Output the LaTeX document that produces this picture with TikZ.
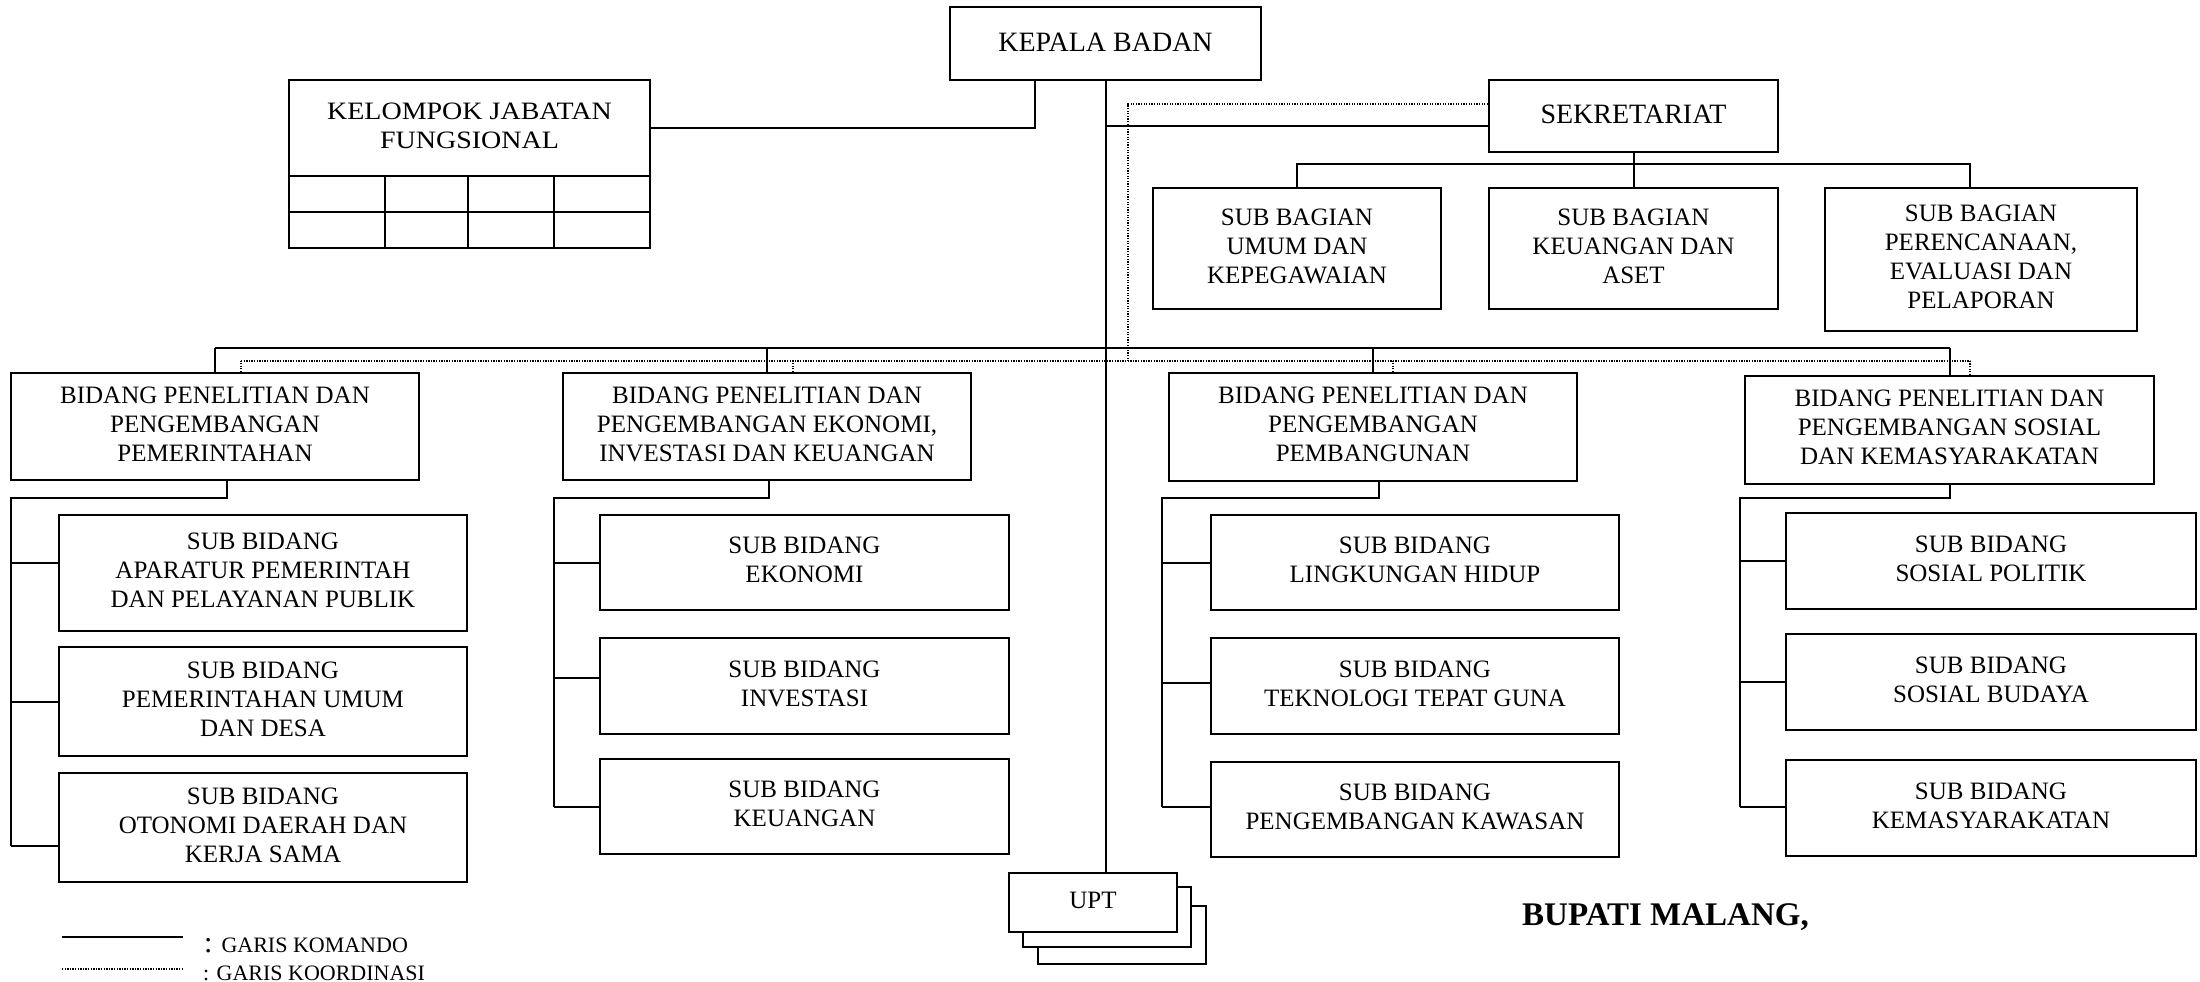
\documentclass[tikz,border=0pt]{standalone}
\usepackage{fontspec}
\setmainfont{Liberation Serif}
\newfontfamily\wideserif[FakeStretch=1.12]{Liberation Serif}
\usetikzlibrary{calc}
\tikzset{
  box/.style={draw, line width=2pt, fill=white, align=center, inner sep=2pt,
    font=\fontsize{25}{29}\selectfont},
  bigbox/.style={box, font=\fontsize{28}{31}\selectfont},
  cmd/.style={line width=2pt},
  coordline/.style={line width=1.3pt, dash pattern=on 1.3pt off 1.3pt},
  legendtext/.style={anchor=base west, inner sep=0pt, font=\fontsize{22}{24}\selectfont}
}
\newcommand\obox[7][0]{\node[box,minimum width={(#5-#3)*1pt},minimum height={(#6-#4)*1pt}] (#2) at ({(#3+#5)/2},{(#4+#6)/2}) {\raisebox{#1pt}{\begin{tabular}{@{}c@{}}#7\end{tabular}}};}
\newcommand\branchto[3]{\path ($(#1.west)+(0,#3)$) coordinate (tmpb); \draw[cmd] (tmpb) -- (tmpb -| #2);}
\begin{document}
\begin{tikzpicture}[x=1pt,y=-1pt]
\useasboundingbox (0,0) rectangle (2200,982);

% top
\node[bigbox,minimum width=311pt,minimum height=73pt] (kb) at (1105.5,43.5) {\raisebox{3pt}{KEPALA BADAN}};
\node[box,font=\wideserif\fontsize{25}{29}\selectfont,minimum width=361pt,minimum height=96pt] (kjf) at (469.5,128) {\raisebox{5pt}{\begin{tabular}{@{}c@{}}KELOMPOK JABATAN\\FUNGSIONAL\end{tabular}}};
\draw[cmd] (289,176) rectangle (650,248);
\draw[cmd] (289,212) -- (650,212);
\foreach \gx in {385,468,554} \draw[cmd] (\gx,176) -- (\gx,248);
\node[bigbox,minimum width=289pt,minimum height=72pt] (sek) at (1633.5,116) {\raisebox{3pt}{SEKRETARIAT}};

\obox[6]{sb1}{1153}{188}{1441}{309}{SUB BAGIAN\\UMUM DAN\\KEPEGAWAIAN}
\obox[6]{sb2}{1489}{188}{1778}{309}{SUB BAGIAN\\KEUANGAN DAN\\ASET}
\obox[3]{sb3}{1825}{188}{2137}{331}{SUB BAGIAN\\PERENCANAAN,\\EVALUASI DAN\\PELAPORAN}

% bidang
\obox{b1}{11}{373}{419}{480}{BIDANG PENELITIAN DAN\\PENGEMBANGAN\\PEMERINTAHAN}
\obox{b2}{563}{373}{971}{480}{BIDANG PENELITIAN DAN\\PENGEMBANGAN EKONOMI,\\INVESTASI DAN KEUANGAN}
\obox{b3}{1169}{373}{1577}{481}{BIDANG PENELITIAN DAN\\PENGEMBANGAN\\PEMBANGUNAN}
\obox{b4}{1745}{376}{2154}{484}{BIDANG PENELITIAN DAN\\PENGEMBANGAN SOSIAL\\DAN KEMASYARAKATAN}

% sub bidang
\obox[3]{s11}{59}{515}{467}{631}{SUB BIDANG\\APARATUR PEMERINTAH\\DAN PELAYANAN PUBLIK}
\obox[3]{s12}{59}{647}{467}{756}{SUB BIDANG\\PEMERINTAHAN UMUM\\DAN DESA}
\obox[3]{s13}{59}{773}{467}{882}{SUB BIDANG\\OTONOMI DAERAH DAN\\KERJA SAMA}
\obox[3]{s21}{600}{515}{1009}{610}{SUB BIDANG\\EKONOMI}
\obox[3]{s22}{600}{638}{1009}{734}{SUB BIDANG\\INVESTASI}
\obox[3]{s23}{600}{759}{1009}{854}{SUB BIDANG\\KEUANGAN}
\obox[3]{s31}{1211}{515}{1619}{610}{SUB BIDANG\\LINGKUNGAN HIDUP}
\obox[3]{s32}{1211}{638}{1619}{734}{SUB BIDANG\\TEKNOLOGI TEPAT GUNA}
\obox[3]{s33}{1211}{762}{1619}{857}{SUB BIDANG\\PENGEMBANGAN KAWASAN}
\obox[3]{s41}{1786}{513}{2196}{609}{SUB BIDANG\\SOSIAL POLITIK}
\obox[3]{s42}{1786}{634}{2196}{730}{SUB BIDANG\\SOSIAL BUDAYA}
\obox[3]{s43}{1786}{760}{2196}{856}{SUB BIDANG\\KEMASYARAKATAN}

% UPT stack
\draw[cmd,fill=white] (1038,906) rectangle (1206,964);
\draw[cmd,fill=white] (1023,887) rectangle (1191,947);
\obox{upt}{1009}{873}{1177}{932}{UPT}

% command lines
\draw[cmd] (kb.south) -- (kb.south |- upt.north);
\coordinate (kbl) at ($(kb.south)+(-70.5,0)$);
\draw[cmd] (kbl) |- (kjf.east);
\coordinate (s1) at ($(sek.west)+(0,10)$);
\draw[cmd] (s1) -- (s1 -| kb.south);
\coordinate (sbus) at (0,164);
\draw[cmd] (sek.south) -- (sb2.north);
\coordinate (sb3c) at ($(sb3.north)+(-11,0)$);
\draw[cmd] (sb1.north) -- (sb1.north |- sbus) -- (sb3c |- sbus) -- (sb3c);

\coordinate (cbus) at (0,348);
\foreach \b in {b1,b2,b3,b4} \draw[cmd] (\b.north) -- (\b.north |- cbus);
\draw[cmd] (b1.north |- cbus) -- (b4.north |- cbus);

% coordination lines
\coordinate (dbus) at (0,361);
\coordinate (d1) at ($(sek.west)+(0,-12)$);
\coordinate (dv) at (1128,0);
\draw[coordline] (d1) -- (d1 -| dv) -- (dv |- dbus);
\foreach \b/\dx in {b1/26,b2/26,b3/20,b4/20.5} {
  \coordinate (d-\b) at ($(\b.north)+(\dx,0)$);
  \draw[coordline] (d-\b) -- (d-\b |- dbus);
}
\draw[coordline] (d-b1 |- dbus) -- (d-b4 |- dbus);

% sub-bidang trees
\coordinate (ytree) at (0,498);
\coordinate (bus1) at (11,0);
\coordinate (bus2) at (554,0);
\coordinate (bus3) at (1162,0);
\coordinate (bus4) at (1740,0);
\coordinate (b1d) at ($(b1.south)+(12,0)$);
\coordinate (b2d) at ($(b2.south)+(2,0)$);
\coordinate (b3d) at ($(b3.south)+(6,0)$);
\coordinate (b4d) at ($(b4.south)+(0.5,0)$);
\draw[cmd] (b1d) -- (b1d |- ytree) -- (bus1 |- ytree) -- (bus1 |- 0,846);
\draw[cmd] (b2d) -- (b2d |- ytree) -- (bus2 |- ytree) -- (bus2 |- 0,807);
\draw[cmd] (b3d) -- (b3d |- ytree) -- (bus3 |- ytree) -- (bus3 |- 0,807);
\draw[cmd] (b4d) -- (b4d |- ytree) -- (bus4 |- ytree) -- (bus4 |- 0,807);
\branchto{s11}{bus1}{-10}
\branchto{s12}{bus1}{0}
\branchto{s13}{bus1}{18.5}
\branchto{s21}{bus2}{0}
\branchto{s22}{bus2}{-8}
\branchto{s23}{bus2}{0.5}
\branchto{s31}{bus3}{0.5}
\branchto{s32}{bus3}{-3}
\branchto{s33}{bus3}{-2.5}
\branchto{s41}{bus4}{0}
\branchto{s42}{bus4}{0}
\branchto{s43}{bus4}{-1}

% signature
\node[anchor=west,inner sep=0pt,font=\bfseries\fontsize{33}{35}\selectfont] (bupati) at (1522,917) {BUPATI MALANG,};

% legend
\coordinate (la) at (62,937); \coordinate (lb) at (183,937);
\draw[cmd] (la) -- (lb);
\coordinate (lc) at (62,969); \coordinate (ld) at (183,969);
\draw[coordline] (lc) -- (ld);
\node[legendtext] (lk) at (204,952) {{\fontsize{30}{30}\selectfont :}\hspace{9pt}GARIS KOMANDO};
\node[legendtext] (lko) at (203,980) {: GARIS KOORDINASI};
\end{tikzpicture}
\end{document}
